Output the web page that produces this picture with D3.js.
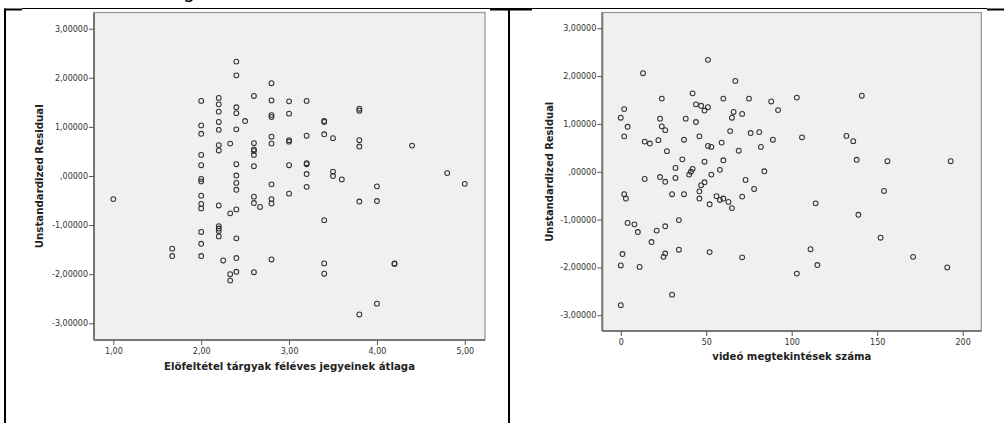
<!DOCTYPE html>
<html><head><meta charset="utf-8">
<script src="https://cdn.jsdelivr.net/npm/d3@7"></script>
<style>html,body{margin:0;padding:0;background:#fff;}svg{display:block;}</style>
</head><body>
<script>
// ---- data ----
const leftX = [2.40,2.40,2.80,2.60,2.00,2.20,2.20,2.20,2.40,2.40,2.80,3.00,3.20,2.80,2.80,3.00,2.50,2.20,2.00,2.00,2.20,2.40,3.40,3.40,3.80,3.80,2.80,3.20,3.40,3.50,3.00,3.00,3.80,3.80,4.40,2.00,2.20,2.20,2.33,2.60,2.60,2.60,2.60,2.80,2.00,2.40,2.60,3.00,3.20,3.20,3.20,3.50,3.50,3.60,4.80,5.00,2.40,2.00,2.00,2.40,2.40,2.80,3.20,4.00,3.00,2.00,2.00,2.00,2.20,2.60,2.60,2.67,2.80,2.80,2.40,2.33,1.00,3.80,4.00,3.40,2.20,2.20,2.20,2.20,2.00,2.40,2.00,1.67,1.67,2.00,2.25,2.40,2.80,3.40,4.20,4.20,3.40,2.33,2.40,2.60,2.33,3.80,4.00];
const leftY = [2.33,2.05,1.89,1.63,1.53,1.59,1.46,1.31,1.40,1.28,1.54,1.52,1.53,1.24,1.20,1.27,1.12,1.10,1.03,0.86,0.94,0.95,1.12,1.10,1.37,1.33,0.80,0.82,0.85,0.77,0.73,0.70,0.73,0.60,0.62,0.43,0.63,0.52,0.66,0.67,0.54,0.51,0.43,0.66,0.22,0.24,0.20,0.22,0.26,0.24,0.04,0.09,0.00,-0.07,0.06,-0.16,0.01,-0.06,-0.11,-0.14,-0.28,-0.17,-0.22,-0.21,-0.36,-0.40,-0.57,-0.66,-0.60,-0.42,-0.55,-0.63,-0.47,-0.56,-0.68,-0.76,-0.47,-0.52,-0.51,-0.90,-1.02,-1.07,-1.12,-1.23,-1.14,-1.27,-1.38,-1.48,-1.63,-1.63,-1.72,-1.67,-1.70,-1.78,-1.78,-1.79,-1.99,-2.00,-1.95,-1.96,-2.13,-2.82,-2.60];

const rightX = [51,13,67,42,141,24,60,75,103,88,2,44,47,49,51,66,65,71,92,0,23,38,44,4,24,26,64,76,81,2,46,106,132,136,89,82,14,17,22,37,51,53,59,69,27,36,32,49,60,138,156,193,42,41,40,58,53,84,14,23,26,32,49,47,46,73,78,154,2,3,30,37,46,56,58,60,63,65,52,71,114,139,34,4,8,10,21,26,18,152,34,52,111,1,26,25,71,171,0,11,115,191,103,0,30];
const rightY = [2.34,2.06,1.90,1.64,1.59,1.53,1.53,1.53,1.55,1.47,1.31,1.41,1.38,1.28,1.35,1.25,1.13,1.21,1.29,1.13,1.11,1.11,1.04,0.94,0.95,0.87,0.85,0.81,0.83,0.74,0.74,0.72,0.75,0.64,0.67,0.52,0.63,0.59,0.66,0.67,0.54,0.52,0.61,0.44,0.43,0.26,0.08,0.21,0.24,0.25,0.22,0.22,0.06,0.00,-0.06,0.04,-0.06,0.01,-0.15,-0.11,-0.21,-0.13,-0.22,-0.28,-0.41,-0.17,-0.36,-0.40,-0.47,-0.56,-0.47,-0.47,-0.56,-0.51,-0.59,-0.56,-0.63,-0.76,-0.68,-0.52,-0.66,-0.90,-1.01,-1.07,-1.10,-1.26,-1.23,-1.14,-1.47,-1.38,-1.63,-1.68,-1.62,-1.72,-1.71,-1.78,-1.79,-1.78,-1.96,-1.99,-1.95,-2.00,-2.13,-2.79,-2.57];

const yTickValues = [-3,-2,-1,0,1,2,3];
const yTickLabels = ["-3,00000","-2,00000","-1,00000",",00000","1,00000","2,00000","3,00000"];
const xTickValuesL = [1,2,3,4,5];
const xTickLabelsL = ["1,00","2,00","3,00","4,00","5,00"];
const xTickValuesR = [0,50,100,150,200];
const xTickLabelsR = ["0","50","100","150","200"];
const yTitle = "Unstandardized Residual";
const xTitleL = "Elöfeltétel tárgyak féléves jegyeinek átlaga";
const xTitleR = "videó megtekintések száma";

// ---- drawing ----
const svg = d3.select("body").append("svg").attr("width",1004).attr("height",423);
svg.append("rect").attr("width",1004).attr("height",423).attr("fill","#fff");

// bottom of a text line above the table (cut off in the original)
svg.append("text").attr("x",183).attr("y",-2.5).attr("font-family","DejaVu Sans").attr("font-size",19).attr("fill","#000").text("g");

// table borders
svg.append("line").attr("x1",22).attr("x2",987).attr("y1",8.5).attr("y2",8.5).attr("stroke","#000").attr("stroke-width",1);
[[4,22],[490,532],[987,1004]].forEach(([a,b])=>svg.append("line").attr("x1",a).attr("x2",b).attr("y1",9.5).attr("y2",9.5).attr("stroke","#000").attr("stroke-width",2));
[5,509].forEach(x=>svg.append("line").attr("x1",x).attr("x2",x).attr("y1",8.5).attr("y2",423).attr("stroke","#000").attr("stroke-width",2));

function panel(cfg){
  const g = svg.append("g");
  const x = d3.scaleLinear().domain(cfg.xdom).range([cfg.left,cfg.right]);
  const y = d3.scaleLinear().domain(cfg.ydom).range([cfg.bottom,cfg.top]);
  g.append("rect").attr("x",cfg.left).attr("y",cfg.top).attr("width",cfg.right-cfg.left).attr("height",cfg.bottom-cfg.top)
    .attr("fill","#f0f0f0").attr("stroke","#9a9a9a").attr("stroke-width",1.3);
  const ya = g.append("g").attr("transform",`translate(${cfg.left},0)`)
    .call(d3.axisLeft(y).tickValues(yTickValues).tickFormat((d,i)=>yTickLabels[i]).tickSize(5).tickPadding(1));
  const xa = g.append("g").attr("transform",`translate(0,${cfg.bottom})`)
    .call(d3.axisBottom(x).tickValues(cfg.xticks).tickFormat((d,i)=>cfg.xlabels[i]).tickSize(5).tickPadding(3));
  [ya,xa].forEach(a=>{
    a.select(".domain").attr("stroke","#777").attr("stroke-width",2);
    a.selectAll(".tick line").attr("stroke","#555").attr("stroke-width",1);
    a.selectAll(".tick text").attr("fill","#333").attr("font-family","DejaVu Sans").attr("font-size",8);
  });
  ya.select(".domain").attr("d",`M0,${cfg.top}V${cfg.bottom}`);
  xa.select(".domain").attr("d",`M${cfg.left},0H${cfg.right}`);
  g.selectAll("circle.pt").data(cfg.xs.map((v,i)=>[v,cfg.ys[i]])).enter().append("circle").attr("class","pt")
    .attr("cx",d=>x(d[0])).attr("cy",d=>y(d[1])).attr("r",2.4)
    .attr("fill","none").attr("stroke","#333").attr("stroke-width",1.05);
  g.append("text").attr("transform",`translate(${cfg.ytx},${(cfg.top+cfg.bottom)/2}) rotate(-90)`)
    .attr("text-anchor","middle").attr("font-family","DejaVu Sans").attr("font-weight","bold").attr("font-size",11)
    .attr("fill","#222").attr("textLength",cfg.ytl).attr("lengthAdjust","spacingAndGlyphs").text(yTitle);
  g.append("text").attr("x",(cfg.left+cfg.right)/2).attr("y",cfg.xty)
    .attr("text-anchor","middle").attr("font-family","DejaVu Sans").attr("font-weight","bold").attr("font-size",11)
    .attr("fill","#222").attr("textLength",cfg.xtl).attr("lengthAdjust","spacingAndGlyphs").text(cfg.xtitle);
}

panel({left:94,right:485,top:12.5,bottom:340,xdom:[0.78,5.23],ydom:[-3.34,3.33],
  xticks:xTickValuesL,xlabels:xTickLabelsL,xs:leftX,ys:leftY,ytx:42.5,ytl:144,xty:369.5,xtl:251,xtitle:xTitleL});
panel({left:602.3,right:981.3,top:12.5,bottom:331,xdom:[-10.8,210.9],ydom:[-3.33,3.33],
  xticks:xTickValuesR,xlabels:xTickLabelsR,xs:rightX,ys:rightY,ytx:552.5,ytl:140,xty:360,xtl:159,xtitle:xTitleR});
</script>
</body></html>
